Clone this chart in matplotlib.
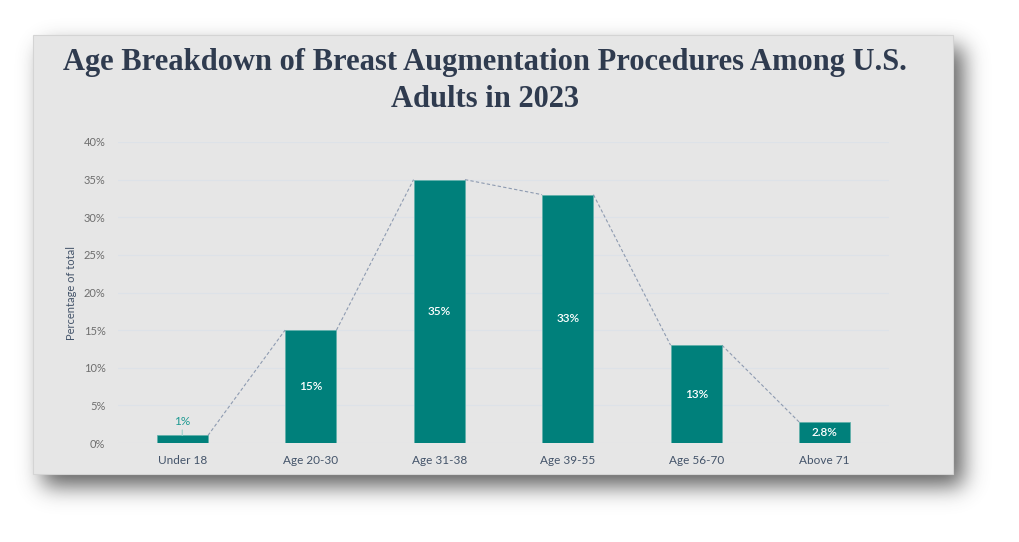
import numpy as np
import matplotlib
matplotlib.use("Agg")
import matplotlib.pyplot as plt
from matplotlib.patches import Rectangle

categories = ["Under 18", "Age 20-30", "Age 31-38", "Age 39-55", "Age 56-70", "Above 71"]
values = [1.0, 15.0, 35.0, 33.0, 13.0, 2.8]
value_labels = ["1%", "15%", "35%", "33%", "13%", "2.8%"]
yticks = [0, 5, 10, 15, 20, 25, 30, 35, 40]
ytick_labels = ["0%", "5%", "10%", "15%", "20%", "25%", "30%", "35%", "40%"]
title = "Age Breakdown of Breast Augmentation Procedures Among U.S.\nAdults in 2023"
ylabel = "Percentage of total"

W, H = 1020, 542
fig = plt.figure(figsize=(W / 100, H / 100), dpi=100)
fig.patch.set_facecolor("white")

# --- shadow + panel (background decoration) ---
bg = fig.add_axes([0, 0, 1, 1])
bg.set_xlim(0, W)
bg.set_ylim(H, 0)
bg.axis("off")
px0, py0, px1, py1 = 33, 35, 953, 474
mask = np.zeros((H, W))
ox, oy = 10, 12
mask[py0 + oy:py1 + oy, px0 + ox:px1 + ox] = 1.0
sig = 11.0
k = np.arange(-40, 41)
g = np.exp(-k ** 2 / (2 * sig ** 2))
g /= g.sum()
mask = np.apply_along_axis(lambda r: np.convolve(r, g, mode="same"), 1, mask)
mask = np.apply_along_axis(lambda c: np.convolve(c, g, mode="same"), 0, mask)
rgba = np.zeros((H, W, 4))
rgba[..., :3] = 0.3
rgba[..., 3] = mask * 0.9
bg.imshow(rgba, extent=(0, W, H, 0), interpolation="bilinear", zorder=0)
bg.add_patch(Rectangle((px0, py0), px1 - px0, py1 - py0, facecolor="#e6e6e6",
                       edgecolor="#d4d4d4", linewidth=0.8, zorder=1))

# --- title ---
fig.text(485 / W, 1 - 81 / H, title, ha="center", va="center",
         family="Liberation Serif", fontweight="bold", fontsize=22,
         color="#2f3b4f", linespacing=1.38)

# --- main axes ---
ax = fig.add_axes([118 / W, 99 / H, (889 - 118) / W, (443 - 142) / H])
ax.set_facecolor("none")
x = np.arange(len(categories))
bw = 0.4
bar_color = "#00807b"
ax.bar(x, values, width=bw, color=bar_color, edgecolor="#5fb0aa", linewidth=0.5, zorder=3)
ax.set_xlim(-0.5, len(categories) - 0.5)
ax.set_ylim(0, 40)
ax.set_yticks(yticks)
ax.set_yticklabels(ytick_labels)
ax.set_xticks(x)
ax.set_xticklabels(categories)
ax.grid(axis="y", color="#dde2e8", linewidth=0.8, zorder=0)
for s in ax.spines.values():
    s.set_visible(False)
ax.tick_params(axis="y", length=0, pad=9, labelsize=8, labelcolor="#6e6e6e")
ax.tick_params(axis="x", length=0, pad=9, labelsize=8.5, labelcolor="#44546a")
for lbl in ax.get_xticklabels() + ax.get_yticklabels():
    lbl.set_family("Lato")
ax.set_ylabel(ylabel, family="Lato", fontsize=8, color="#44546a", labelpad=5)

# connecting dashed lines (top-right of bar i to top-left of bar i+1)
for i in range(len(values) - 1):
    ax.plot([x[i] + bw / 2, x[i + 1] - bw / 2], [values[i], values[i + 1]],
            linestyle=(0, (3, 2)), color="#8e9bb1", linewidth=0.8, zorder=2)

# data labels
for i, (v, t) in enumerate(zip(values, value_labels)):
    if v < 2:
        ax.annotate(t, xy=(x[i], v), xytext=(0, 6), textcoords="offset points",
                    ha="center", va="bottom", family="Lato", fontsize=8.5,
                    color="#1f9a92",
                    arrowprops=dict(arrowstyle="-", color="#9ccfca", linewidth=0.8,
                                    shrinkA=0, shrinkB=0))
    else:
        ax.text(x[i], v / 2, t, ha="center", va="center", family="Lato",
                fontsize=8.5, fontweight="semibold", color="white", zorder=4)

fig.savefig("out.png", dpi=100, facecolor="white")
